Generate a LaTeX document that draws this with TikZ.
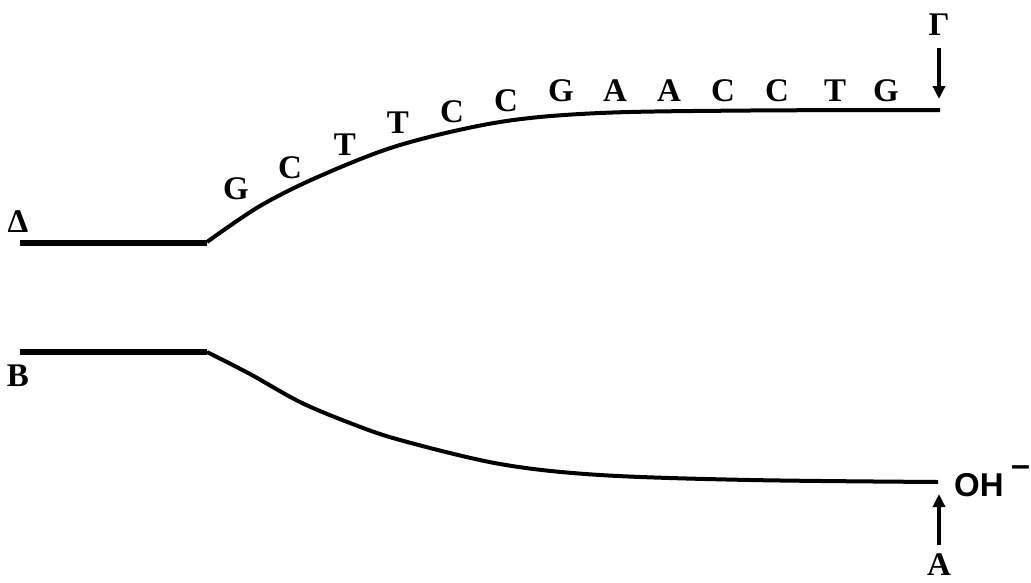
\documentclass[tikz,border=0pt]{standalone}
\usepackage{fontspec}
\setmainfont{Liberation Serif}
\newfontfamily\arialfont{Liberation Sans}
\usetikzlibrary{arrows.meta}
\begin{document}
\begin{tikzpicture}[x=1pt,y=-1pt,
  base/.style={font=\fontsize{33}{33}\selectfont\bfseries, inner sep=0pt, anchor=base},
  ohlabel/.style={font=\fontsize{33}{33}\selectfont\arialfont\bfseries, inner sep=0pt, anchor=base west},
  stem/.style={line width=6pt},
  strand/.style={line width=4pt},
  arr/.style={line width=3.5pt, -{Triangle[width=12pt,length=13pt]}}]
\useasboundingbox (0,0) rectangle (1031,582);
% top strand
\coordinate (t0) at (20,243);
\coordinate (t1) at (207,243);
\draw[stem] (t0) -- (t1);
\draw[strand] plot[smooth, tension=0.55] coordinates {(207,242) (260,206) (320,176) (400,145) (500,122) (600,113) (750,110.5) (940,110)};
% bottom strand
\coordinate (b0) at (20,352);
\coordinate (b1) at (207,352);
\draw[stem] (b0) -- (b1);
\draw[strand] plot[smooth, tension=0.55] coordinates {(207,352) (250,374) (300,402) (350,423) (400,440) (500,464) (600,475) (750,480) (938,482)};
% sequence
\node[base] (s1) at (236,199) {G};
\node[base] (s2) at (290,178) {C};
\node[base] (s3) at (345,155) {T};
\node[base] (s4) at (398,133) {T};
\node[base] (s5) at (452,122) {C};
\node[base] (s6) at (506,111) {C};
\node[base] (s7) at (561,101) {G};
\node[base] (s8) at (615,101) {A};
\node[base] (s9) at (669,101) {A};
\node[base] (s10) at (723,101) {C};
\node[base] (s11) at (777,101) {C};
\node[base] (s12) at (835,101) {T};
\node[base] (s13) at (886,101) {G};
% labels
\node[base] (delta) at (18,232) {Δ};
\node[base] (beta) at (18,386) {Β};
\node[base] (gamma) at (939,35) {Γ};
\node[base] (alpha) at (939,575) {Α};
\node[ohlabel] (oh) at (954,496) {OH};
\node[ohlabel, font=\fontsize{34}{34}\selectfont\arialfont\bfseries] (minus) at (1011,476) {–};
% arrows
\coordinate (g0) at (939,48);
\coordinate (g1) at (939,99);
\draw[arr] (g0) -- (g1);
\coordinate (a0) at (939,545);
\coordinate (a1) at (939,494);
\draw[arr] (a0) -- (a1);
\end{tikzpicture}
\end{document}
